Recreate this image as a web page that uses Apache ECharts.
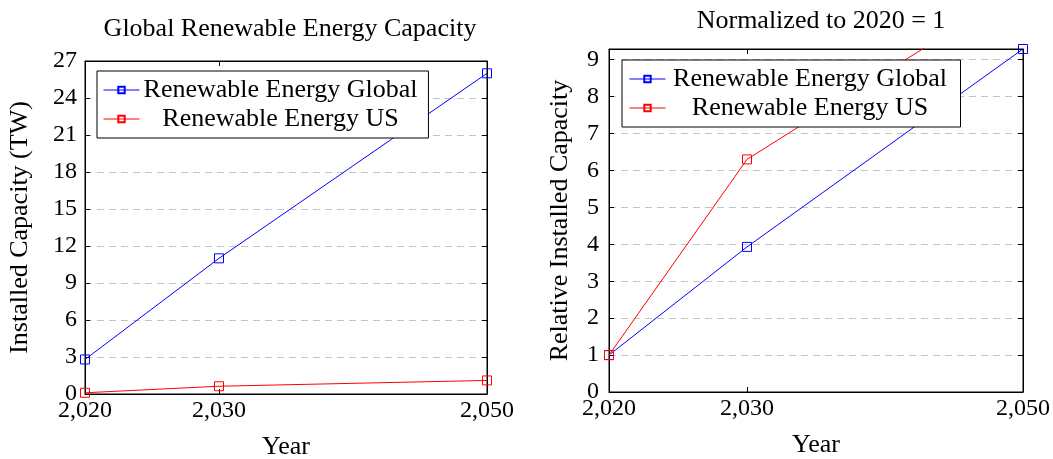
<!DOCTYPE html>
<html>
<head>
<meta charset="utf-8">
<script src="https://cdn.jsdelivr.net/npm/echarts@6/dist/echarts.min.js"></script>
<style>
  html, body { margin: 0; padding: 0; background: #fff; }
  #chart { width: 1053px; height: 459px; }
</style>
</head>
<body>
<div id="chart"></div>
<script>
// Milestone years
const years = [2020, 2030, 2050];
// Installed capacity in TW
const globalTW = [2.8, 11, 26];
const usTW = [0.1, 0.63, 1.1];
// Capacity relative to the 2020 level
const globalRel = [1, 3.93, 9.29];
const usRel = [1, 6.3, 11];
// Tick values
const yearTicks = [2020, 2030, 2050];
const relTicks = [0, 1, 2, 3, 4, 5, 6, 7, 8, 9];

const FONT = 'Liberation Serif';
const BLUE = '#0000ff';
const RED = '#ff0000';
const TICK_FS = 24;
const TEXT_FS = 26;

const fmtYear = v => Math.round(v).toLocaleString('en-US');

function pairs(xs, ys) { return xs.map((x, i) => [x, ys[i]]); }

function lineSeries(name, color, data, idx) {
  return {
    name: name,
    type: 'line',
    xAxisIndex: idx * 2,
    yAxisIndex: idx * 2,
    data: data,
    symbol: 'rect',
    symbolSize: 9,
    showAllSymbol: true,
    clip: true,
    lineStyle: { color: color, width: 1 },
    itemStyle: { color: 'rgba(0,0,0,0)', borderColor: color, borderWidth: 1 },
    emphasis: { disabled: true },
    animation: false
  };
}

function xAxes(grid) {
  const base = {
    type: 'value', gridIndex: grid, min: 2020, max: 2050,
    axisLine: { show: true, onZero: false, lineStyle: { color: '#000', width: 1 } },
    splitLine: { show: false }
  };
  const tick = { show: true, inside: true, length: 5, customValues: yearTicks, lineStyle: { color: '#000' } };
  return [
    Object.assign({}, base, {
      position: 'bottom',
      name: 'Year', nameLocation: 'middle', nameGap: 40,
      nameTextStyle: { fontFamily: FONT, fontSize: TEXT_FS, color: '#000' },
      axisTick: tick,
      axisLabel: { customValues: yearTicks, formatter: fmtYear, fontFamily: FONT, fontSize: TICK_FS, color: '#000', margin: 5 }
    }),
    Object.assign({}, base, {
      position: 'top',
      axisTick: tick,
      axisLabel: { show: false }
    })
  ];
}

function yAxes(grid, max, interval, name, nameGap, labelVals, labelMargin) {
  const base = {
    type: 'value', gridIndex: grid, min: 0, max: max, interval: interval,
    axisLine: { show: true, onZero: false, lineStyle: { color: '#000', width: 1 } }
  };
  const tick = { show: true, inside: true, length: 5, lineStyle: { color: '#000' } };
  const label = { fontFamily: FONT, fontSize: TICK_FS, color: '#000', margin: labelMargin };
  if (labelVals) { tick.customValues = labelVals; label.customValues = labelVals; }
  return [
    Object.assign({}, base, {
      position: 'left',
      name: name, nameLocation: 'middle', nameGap: nameGap,
      nameTextStyle: { fontFamily: FONT, fontSize: TEXT_FS, color: '#000' },
      axisTick: tick,
      axisLabel: label,
      splitLine: { show: true, lineStyle: { color: '#c4c4c4', type: [7, 5], width: 1 } }
    }),
    Object.assign({}, base, {
      position: 'right',
      axisTick: tick,
      axisLabel: { show: false },
      splitLine: { show: false }
    })
  ];
}

function legend(grid, left, top, textWidth, padLeft) {
  return {
    show: true,
    left: left, top: top,
    orient: 'vertical',
    data: grid === 0
      ? ['Renewable Energy Global', 'Renewable Energy US']
      : ['Renewable Energy Global ', 'Renewable Energy US '],
    itemWidth: 36, itemHeight: 8, itemGap: 3,
    padding: [6, 11, 6, padLeft],
    borderColor: '#000', borderWidth: 1,
    backgroundColor: '#fff',
    selectedMode: false,
    lineStyle: { width: 1 },
    formatter: n => '{t|' + n.trim() + '}',
    textStyle: {
      fontFamily: FONT, fontSize: TEXT_FS, color: '#000',
      rich: { t: { width: textWidth, lineHeight: 27, align: 'center', fontFamily: FONT, fontSize: TEXT_FS, color: '#000' } }
    }
  };
}

const chart = echarts.init(document.getElementById('chart'), null, { renderer: 'canvas' });

chart.setOption({
  backgroundColor: '#fff',
  animation: false,
  title: [
    { text: 'Global Renewable Energy Capacity', left: 285, top: 11, textAlign: 'center',
      textStyle: { fontFamily: FONT, fontSize: TEXT_FS, fontWeight: 'normal', color: '#000' } },
    { text: 'Normalized to 2020 = 1', left: 816, top: 3, textAlign: 'center',
      textStyle: { fontFamily: FONT, fontSize: TEXT_FS, fontWeight: 'normal', color: '#000' } }
  ],
  grid: [
    { left: 85, right: 566, top: 61, bottom: 65, show: true, borderColor: '#000', borderWidth: 1,
      containLabel: false, outerBoundsMode: 'none' },
    { left: 609, right: 30, top: 49, bottom: 67, show: true, borderColor: '#000', borderWidth: 1,
      containLabel: false, outerBoundsMode: 'none' }
  ],
  legend: [ legend(0, 97, 71, 272, 6), legend(1, 622, 60, 279, 7) ],
  xAxis: [].concat(xAxes(0), xAxes(1)),
  yAxis: [].concat(
    yAxes(0, 27, 3, 'Installed Capacity (TW)', 52, null, 8),
    yAxes(1, 9.29, 1, 'Relative Installed Capacity', 36, relTicks, 10)
  ),
  series: [
    lineSeries('Renewable Energy Global', BLUE, pairs(years, globalTW), 0),
    lineSeries('Renewable Energy US', RED, pairs(years, usTW), 0),
    lineSeries('Renewable Energy Global ', BLUE, pairs(years, globalRel), 1),
    lineSeries('Renewable Energy US ', RED, pairs(years, usRel), 1)
  ]
});
</script>
</body>
</html>
